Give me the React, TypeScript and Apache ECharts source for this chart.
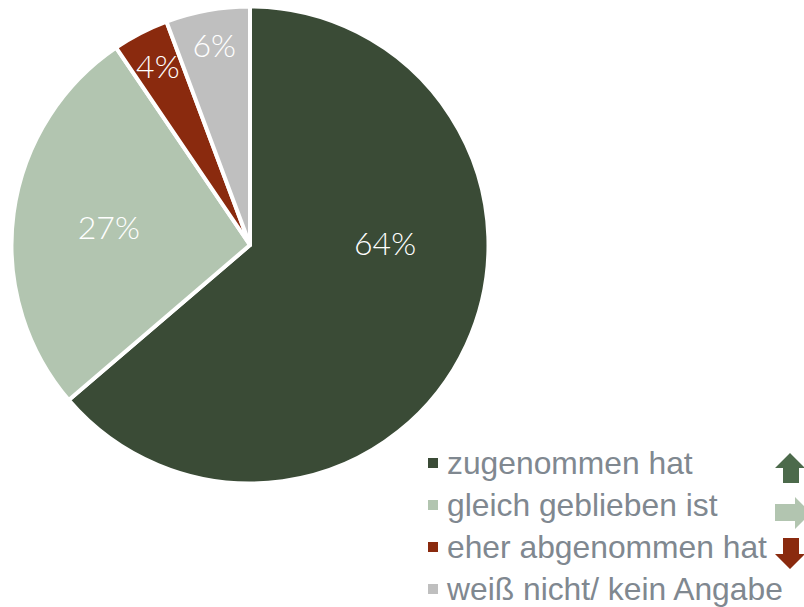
import React, { useEffect, useRef } from "react";
import * as echarts from "echarts";

const categories = ["zugenommen hat", "gleich geblieben ist", "eher abgenommen hat", "weiß nicht/ kein Angabe"];
const values = [63.8, 26.8, 3.8, 5.7];
const colors = ["#3A4B36", "#B2C5B0", "#8A2A0E", "#BFBFBF"];
const labelOffsets = [[24, -54], [-20, -2], [-36, -71], [-14, -80]];

export default function App() {
  const ref = useRef<HTMLDivElement>(null);
  useEffect(() => {
    const chart = echarts.init(ref.current!, undefined, { renderer: "svg" });
    chart.setOption({
      animation: false,
      backgroundColor: "#ffffff",
      legend: {
        orient: "vertical",
        left: 420,
        top: 446,
        icon: "rect",
        itemWidth: 12,
        itemHeight: 12,
        itemGap: 8,
        padding: [0, 0, 0, 6],
        selectedMode: false,
        data: categories,
        textStyle: { fontFamily: "Liberation Sans", fontSize: 31.8, color: "#808890", padding: [0, 0, 0, 3], height: 34, lineHeight: 34 },
      },
      series: [
        {
          type: "pie",
          center: [250, 245],
          radius: [0, 238.5],
          startAngle: 90,
          clockwise: true,
          silent: true,
          avoidLabelOverlap: false,
          itemStyle: { borderColor: "#ffffff", borderWidth: 4 },
          labelLine: { show: false },
          labelLayout: { hideOverlap: false },
          data: categories.map((name, i) => ({
            name,
            value: values[i],
            itemStyle: { color: colors[i] },
            label: { offset: labelOffsets[i] },
          })),
          label: {
            show: true,
            position: "inside",
            formatter: (p: any) => `${Math.round(p.value)}%`,
            fontFamily: "Lato",
            fontWeight: 300,
            fontSize: 32,
            color: "#ffffff",
          },
        },
      ],
      graphic: [
        { type: "polygon", shape: { points: [[790, 453], [805, 468], [799, 468], [799, 483], [783, 483], [783, 468], [775, 468]] }, style: { fill: "#4C6A4B" } },
        { type: "polygon", shape: { points: [[775, 504], [795, 504], [795, 497], [811, 513], [795, 529], [795, 521], [775, 521]] }, style: { fill: "#B2C5B0" } },
        { type: "polygon", shape: { points: [[783, 538], [799, 538], [799, 554], [805, 554], [790, 569], [775, 554], [783, 554]] }, style: { fill: "#8A2A0E" } },
      ],
    });
    return () => chart.dispose();
  }, []);
  return <div ref={ref} style={{ position: "fixed", left: 0, top: 0, width: 804, height: 607 }} />;
}
